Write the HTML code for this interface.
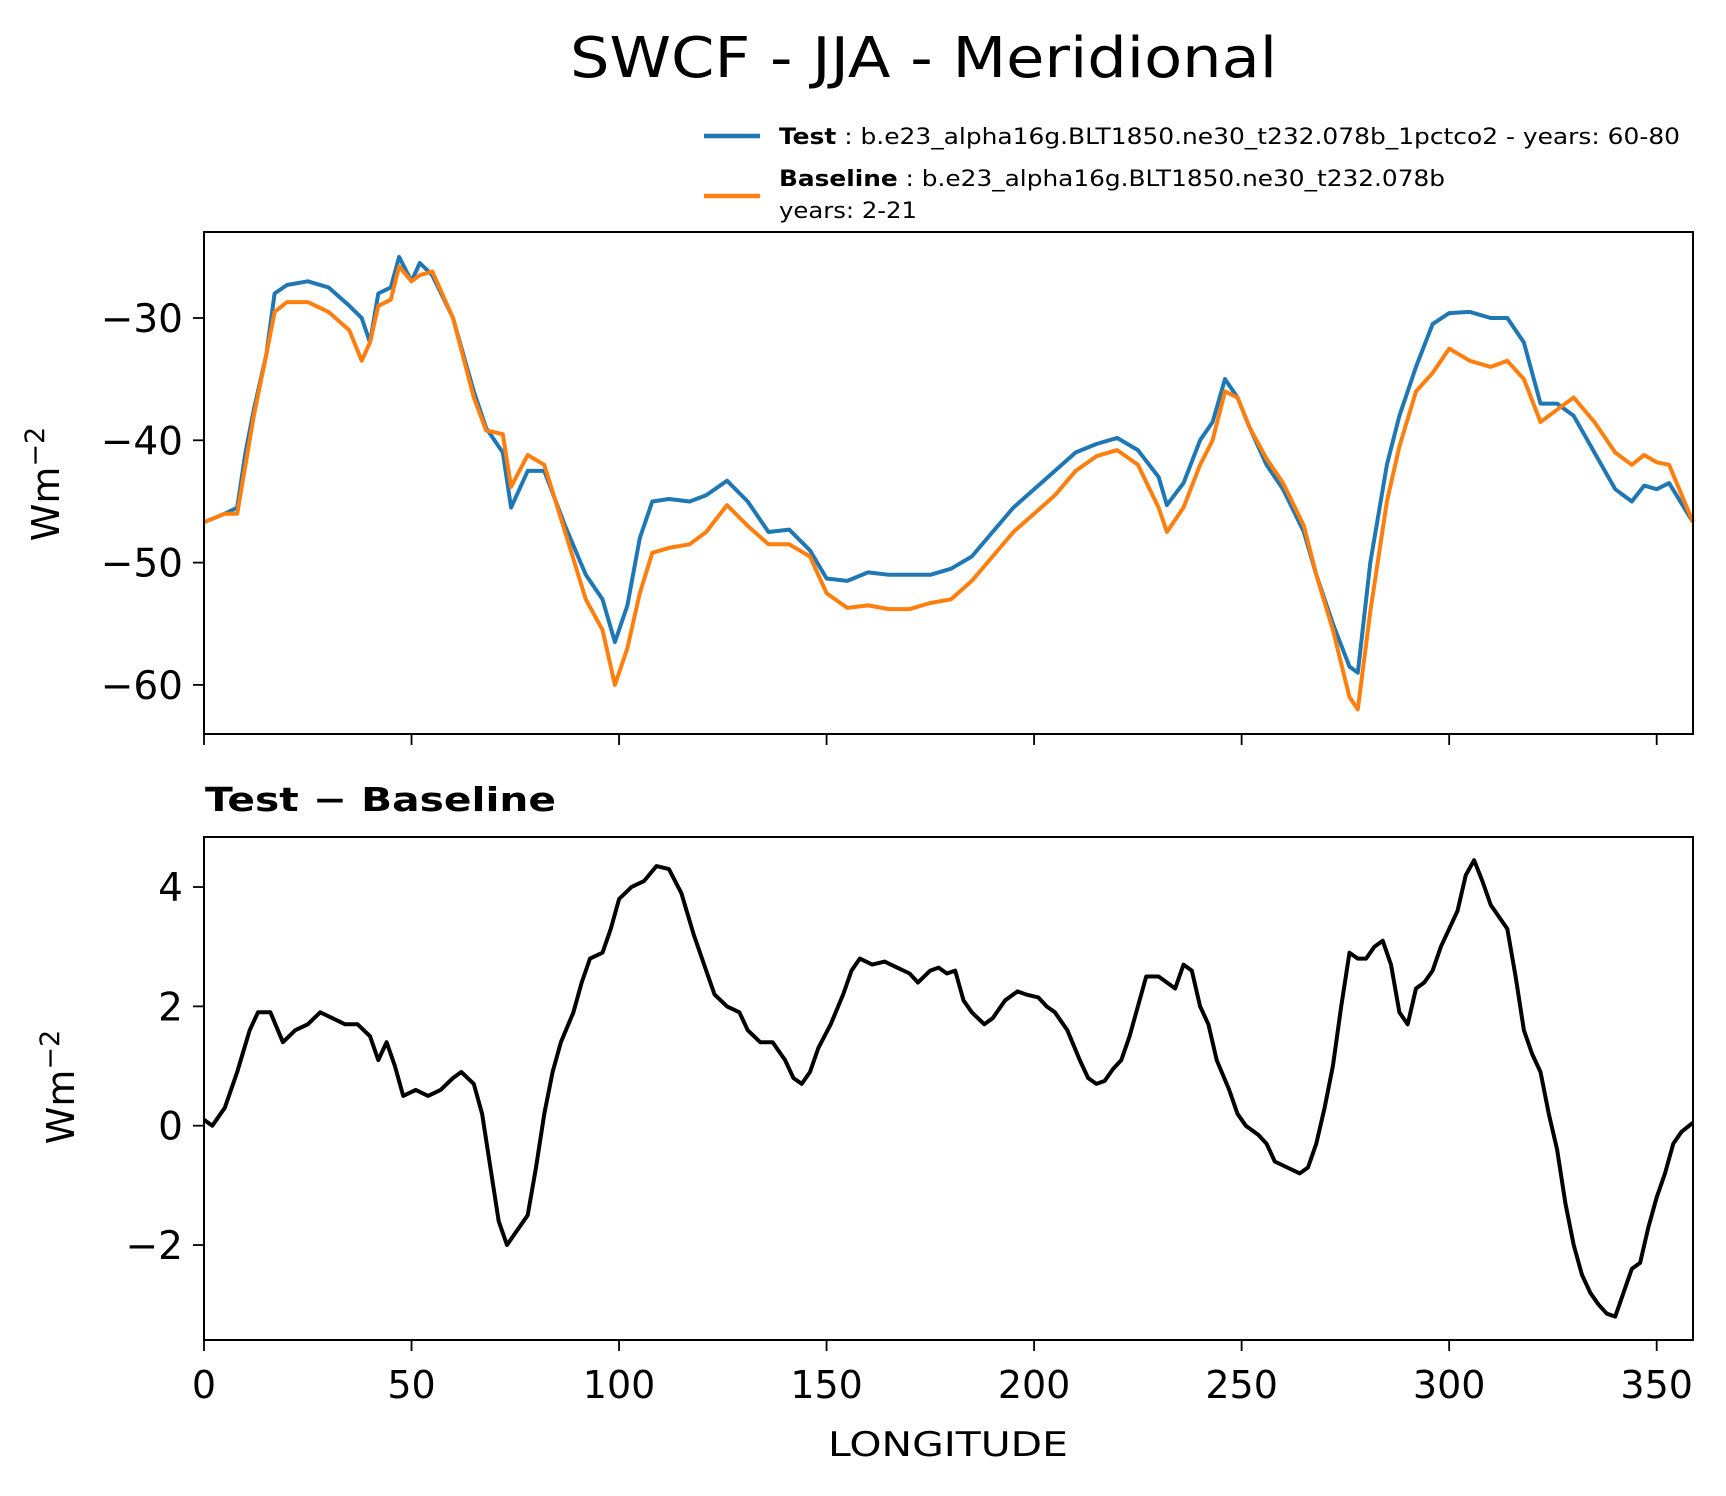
<!DOCTYPE html>
<html><head><meta charset="utf-8">
<style>
body{margin:0;background:#fff;}
svg{display:block;font-family:"DejaVu Sans","Liberation Sans",sans-serif;}
</style></head>
<body>
<svg id="chart" width="1726" height="1496" viewBox="0 0 1726 1496" xmlns="http://www.w3.org/2000/svg">
<rect width="1726" height="1496" fill="#fff"/>
<text x="570" y="77" font-size="56" textLength="707" lengthAdjust="spacingAndGlyphs">SWCF - JJA - Meridional</text>
<g>
<line x1="704" y1="136" x2="760" y2="136" stroke="#1f77b4" stroke-width="4.5"/>
<text x="779" y="144" font-size="22" textLength="901" lengthAdjust="spacingAndGlyphs"><tspan font-weight="bold">Test</tspan> : b.e23_alpha16g.BLT1850.ne30_t232.078b_1pctco2 - years: 60-80</text>
<line x1="704" y1="196" x2="760" y2="196" stroke="#ff7f0e" stroke-width="4.5"/>
<text x="779" y="186" font-size="22" textLength="666" lengthAdjust="spacingAndGlyphs"><tspan font-weight="bold">Baseline</tspan> : b.e23_alpha16g.BLT1850.ne30_t232.078b</text>
<text x="779" y="218" font-size="22" textLength="138" lengthAdjust="spacingAndGlyphs">years: 2-21</text>
</g>
<text x="205" y="811" font-size="33" font-weight="bold" textLength="351" lengthAdjust="spacingAndGlyphs">Test − Baseline</text>
<text transform="translate(59,484) rotate(-90)" font-size="38" text-anchor="middle">Wm<tspan dy="-15" font-size="27">−2</tspan></text>
<text transform="translate(74,1087) rotate(-90)" font-size="38" text-anchor="middle">Wm<tspan dy="-15" font-size="27">−2</tspan></text>
<text x="828" y="1456" font-size="34" textLength="240" lengthAdjust="spacingAndGlyphs">LONGITUDE</text>
<g id="plots"></g>
</svg>
<script>
const xTest=[0,5,8,10,12,15,17,20,25,30,35,38,40,42,45,47,50,52,55,60,65,68,72,74,78,82,87,92,96,99,102,105,108,112,117,121,126,131,136,141,146,150,155,160,165,170,175,180,185,190,195,200,205,210,215,220,225,230,232,236,240,243,246,249,252,256,260,265,268,272,276,278,281,285,288,292,296,300,305,310,314,318,322,326,330,335,340,344,347,350,353,358.75];
const testVals=[-46.7,-46,-45.5,-41,-37.5,-33,-28,-27.3,-27,-27.5,-29,-30,-32,-28,-27.5,-25,-27,-25.5,-26.5,-30,-36,-39,-41,-45.5,-42.5,-42.5,-47,-51,-53,-56.5,-53.5,-48,-45,-44.8,-45,-44.5,-43.3,-45,-47.5,-47.3,-49,-51.3,-51.5,-50.8,-51,-51,-51,-50.5,-49.5,-47.5,-45.5,-44,-42.5,-41,-40.3,-39.8,-40.8,-43,-45.3,-43.5,-40,-38.5,-35,-36.5,-39,-42,-44,-47.5,-51,-55,-58.5,-59,-50,-42,-38,-34,-30.5,-29.6,-29.5,-30,-30,-32,-37,-37,-38,-41,-44,-45,-43.7,-44,-43.5,-46.7];
const baseVals=[-46.7,-46,-46,-42,-38,-33,-29.5,-28.7,-28.7,-29.5,-31,-33.5,-32,-29,-28.5,-25.8,-27,-26.5,-26.2,-30,-36.5,-39.2,-39.5,-43.8,-41.2,-42,-47.5,-53,-55.5,-60,-57,-52.5,-49.2,-48.8,-48.5,-47.5,-45.3,-47,-48.5,-48.5,-49.5,-52.5,-53.7,-53.5,-53.8,-53.8,-53.3,-53,-51.5,-49.5,-47.5,-46,-44.5,-42.5,-41.3,-40.8,-42,-45.5,-47.5,-45.5,-42,-40,-36,-36.5,-39,-41.5,-43.5,-47,-51,-55.5,-61,-62,-54,-45,-40.5,-36,-34.5,-32.5,-33.5,-34,-33.5,-35,-38.5,-37.5,-36.5,-38.5,-41,-42,-41.2,-41.8,-42,-46.7];
const xDiff=[0,2,5,8,11,13,16,19,22,25,28,31,34,37,40,42,44,46,48,51,54,57,60,62,65,67,69,71,73,76,78,80,82,84,86,89,91,93,96,98,100,103,106,109,112,115,118,121,123,126,129,131,134,137,140,142,144,146,148,151,154,156,158,161,164,167,170,172,175,177,179,181,183,185,188,190,193,196,198,201,203,205,208,211,213,215,217,219,221,223,225,227,230,232,234,236,238,240,242,244,247,249,251,254,256,258,261,264,266,268,270,272,274,276,278,280,282,284,286,288,290,292,294,296,298,300,302,304,306,308,310,312,314,316,318,320,322,324,326,328,330,332,334,336,338,340,342,344,346,348,350,352,354,356,358.75];
const diffVals=[0.1,0,0.3,0.9,1.6,1.9,1.9,1.4,1.6,1.7,1.9,1.8,1.7,1.7,1.5,1.1,1.4,1.0,0.5,0.6,0.5,0.6,0.8,0.9,0.7,0.2,-0.7,-1.6,-2.0,-1.7,-1.5,-0.7,0.2,0.9,1.4,1.9,2.4,2.8,2.9,3.3,3.8,4.0,4.1,4.35,4.3,3.9,3.2,2.6,2.2,2.0,1.9,1.6,1.4,1.4,1.1,0.8,0.7,0.9,1.3,1.7,2.2,2.6,2.8,2.7,2.75,2.65,2.55,2.4,2.6,2.65,2.55,2.6,2.1,1.9,1.7,1.8,2.1,2.25,2.2,2.15,2.0,1.9,1.6,1.1,0.8,0.7,0.75,0.95,1.1,1.5,2.0,2.5,2.5,2.4,2.3,2.7,2.6,2.0,1.7,1.1,0.6,0.2,0.0,-0.15,-0.3,-0.6,-0.7,-0.8,-0.7,-0.3,0.3,1.0,2.0,2.9,2.8,2.8,3.0,3.1,2.7,1.9,1.7,2.3,2.4,2.6,3.0,3.3,3.6,4.2,4.45,4.1,3.7,3.5,3.3,2.5,1.6,1.2,0.9,0.2,-0.4,-1.3,-2.0,-2.5,-2.8,-3.0,-3.15,-3.2,-2.8,-2.4,-2.3,-1.7,-1.2,-0.8,-0.3,-0.1,0.05];
const xTicks=[0,50,100,150,200,250,300,350];
const topYTicks=[-30,-40,-50,-60];
const topYLabels=["−30","−40","−50","−60"];
const botYTicks=[4,2,0,-2];
const botYLabels=["4","2","0","−2"];

const NS="http://www.w3.org/2000/svg";
const g=document.getElementById('plots');
const L=204,R=1693;
const xs=v=>L+v*(R-L)/358.75;
const topT=232,topB=734,botT=837,botB=1340;
const yTop=v=>318+(-30-v)*12.23;
const yBot=v=>1125.7-v*59.67;
function mk(tag,attrs){const e=document.createElementNS(NS,tag);for(const k in attrs)e.setAttribute(k,attrs[k]);g.appendChild(e);return e;}
function line(xa,ya,fy,color,name){
  const d=xa.map((x,i)=>(i?'L':'M')+xs(x).toFixed(1)+','+fy(ya[i]).toFixed(1)).join('');
  const p=mk('path',{d:d,fill:'none',stroke:color,'stroke-width':4,'stroke-linejoin':'round'});
  
  
}
function axes(t,b,fy,ticks,labels,showX){
  ticks.forEach((v,i)=>{
    const y=fy(v);
    const tk=mk('line',{x1:L-11,x2:L,y1:y,y2:y,stroke:'#000','stroke-width':1.8});
    
    
    const tx=mk('text',{x:L-21,y:y+14,'font-size':39,'text-anchor':'end'});
    tx.textContent=labels[i];
    
    
  });
  xTicks.forEach(v=>{
    const x=xs(v);
    const tk=mk('line',{x1:x,x2:x,y1:b,y2:b+11,stroke:'#000','stroke-width':1.8});
    
    
    if(showX){
      const tx=mk('text',{x:x,y:b+58,'font-size':38,'text-anchor':'middle'});
      tx.textContent=v;
      
      
    }
  });
}
axes(topT,topB,yTop,topYTicks,topYLabels,false);
axes(botT,botB,yBot,botYTicks,botYLabels,true);
line(xTest,testVals,yTop,'#1f77b4','test-line');
line(xTest,baseVals,yTop,'#ff7f0e','baseline-line');
line(xDiff,diffVals,yBot,'#000','difference-line');
[[topT,topB,'top-plot-frame'],[botT,botB,'bottom-plot-frame']].forEach(a=>{
  const f=mk('rect',{x:L,y:a[0],width:R-L,height:a[1]-a[0],fill:'none',stroke:'#000','stroke-width':2});
  
  
});
</script>
</body></html>
